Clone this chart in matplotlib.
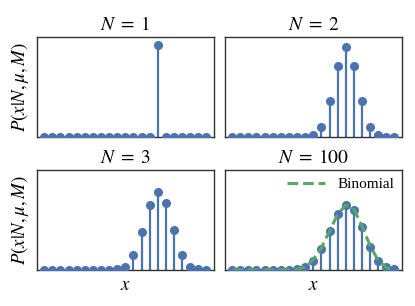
import numpy as np
import matplotlib
matplotlib.use('Agg')
import matplotlib.pyplot as plt

plt.rcParams['font.family'] = ['Liberation Serif', 'DejaVu Serif']
plt.rcParams['mathtext.fontset'] = 'stix'

BLUE = '#4c72b0'
GREEN = '#55a868'

x = list(range(21))

p_n1 = [0, 0, 0, 0, 0, 0, 0, 0, 0, 0, 0, 0, 0, 0, 1.0, 0, 0, 0, 0, 0, 0]
p_n2 = [0, 0, 0, 0, 0, 0, 0, 0, 0, 0.002, 0.026, 0.116, 0.40, 0.795, 1.0,
        0.795, 0.40, 0.116, 0.026, 0.002, 0]
p_n3 = [0, 0, 0, 0, 0, 0, 0, 0, 0.003, 0.013, 0.043, 0.196, 0.49, 0.826, 1.0,
        0.86, 0.51, 0.196, 0.04, 0.013, 0.003]
p_n100 = [0, 0, 0, 0, 0, 0, 0, 0.002, 0.01, 0.037, 0.142, 0.326, 0.595, 0.858, 1.0,
          0.93, 0.668, 0.35, 0.13, 0.037, 0.01]
binomial = [0, 0, 0, 0, 0, 0, 0, 0.003, 0.012, 0.045, 0.16, 0.341, 0.597, 0.857, 1.0,
            0.934, 0.68, 0.374, 0.145, 0.036, 0.005]

titles = [r'$N\;=\;1$', r'$N\;=\;2$', r'$N\;=\;3$', r'$N\;=\;100$']
series = [p_n1, p_n2, p_n3, p_n100]
peak_frac = [0.917, 0.894, 0.78, 0.646]

fig, axes = plt.subplots(2, 2, figsize=(4.15, 3.06), dpi=100)
fig.subplots_adjust(left=0.089, right=0.968, top=0.880, bottom=0.118,
                    wspace=0.0625, hspace=0.324)

for ax, vals, title, frac in zip(axes.flat, series, titles, peak_frac):
    markers, stems, base = ax.stem(x, vals)
    plt.setp(markers, color=BLUE, markersize=5.5, zorder=3)
    plt.setp(stems, color=BLUE, linewidth=1.6)
    base.set_visible(False)
    ax.set_xlim(-0.9, 20.9)
    ax.set_ylim(0, max(vals) / frac)
    ax.set_xticks([])
    ax.set_yticks([])
    ax.set_title(title, fontsize=14, pad=5)
    for s in ax.spines.values():
        s.set_color('#333333')
        s.set_linewidth(1.0)

ax4 = axes[1, 1]
ax4.plot(x, binomial, '--', color=GREEN, linewidth=2.2, dashes=(3.5, 1.6),
         label='Binomial', zorder=4)
ax4.legend(loc='upper right', frameon=False, fontsize=11,
           handlelength=2.5, borderaxespad=0.1)

axes[0, 0].set_ylabel(r'$P(x\vert N,\mu,M)$', fontsize=13.5)
axes[1, 0].set_ylabel(r'$P(x\vert N,\mu,M)$', fontsize=13.5)
axes[1, 0].set_xlabel('$x$', fontsize=13.5, labelpad=5)
axes[1, 1].set_xlabel('$x$', fontsize=13.5, labelpad=5)

fig.savefig('out.png', dpi=100)
